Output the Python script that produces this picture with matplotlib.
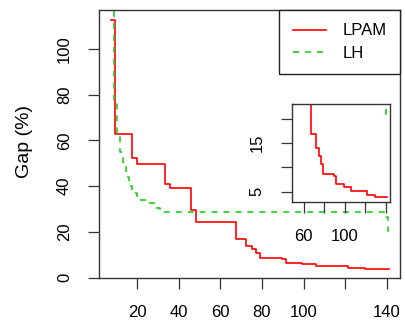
import matplotlib
matplotlib.use("Agg")
import matplotlib.pyplot as plt

plt.rcParams["font.family"] = ["Liberation Sans", "DejaVu Sans"]
plt.rcParams["lines.scale_dashes"] = False

# step curves: gap (%) vs n
lpam_n = [7.4, 9.3, 17.3, 19.7, 33.3, 35.7, 46.1, 48.5, 67.3, 72.3, 75.1, 77.3,
          79.0, 89.6, 91.4, 99.4, 106.2, 121.5, 129.8, 141.2]
lpam_gap = [112.8, 62.7, 52.2, 49.7, 40.8, 39.1, 29.6, 24.5, 16.9, 14.0, 12.4, 10.7,
            8.7, 8.2, 6.5, 5.9, 5.1, 4.2, 3.8, 3.8]

lh_n = [7.4, 9.0, 10.1, 11.5, 13.0, 14.5, 16.0, 17.5, 19.7, 24.5, 28.5, 30.9,
        139.7, 140.6, 141.2]
lh_gap = [125.0, 77.4, 62.4, 55.0, 49.3, 44.0, 40.0, 37.0, 34.0, 32.5, 30.3, 28.6,
          26.7, 20.3, 20.3]

x_ticks = [20, 40, 60, 80, 100, 120, 140]
x_labels = ["20", "40", "60", "80", "100", "", "140"]
y_ticks = [0, 20, 40, 60, 80, 100]
inset_x_ticks = [60, 80, 100, 120, 140]
inset_x_labels = ["60", "", "100", "", ""]
inset_y_ticks = [5, 10, 15, 20]
inset_y_labels = ["5", "", "15", ""]

RED = "#FF0000"
GREEN = "#22CC22"
FS = 12


def draw_curves(ax):
    ax.step(lpam_n, lpam_gap, where="post", color=RED, lw=1.2, label="LPAM")
    ax.step(lh_n, lh_gap, where="post", color=GREEN, lw=1.2,
            dashes=(4.3, 4.3), label="LH")


def style_axes(ax):
    for s in ax.spines.values():
        s.set_color("#333333")
        s.set_linewidth(1.0)
    ax.tick_params(length=8, width=0.9, color="#333333", labelsize=FS, pad=11.5)
    ax.tick_params(axis="y", labelrotation=90)
    for lab in ax.get_yticklabels():
        lab.set_va("center")


fig = plt.figure(figsize=(4.06, 3.27), dpi=100)
ax = fig.add_axes([0.2438, 0.1498, 0.7414, 0.8196])
draw_curves(ax)
ax.set_xlim(1.6, 146.4)
ax.set_ylim(-0.1, 117)
ax.set_xticks(x_ticks)
ax.set_xticklabels(x_labels)
ax.set_yticks(y_ticks)
style_axes(ax)
ax.set_ylabel("Gap (%)", fontsize=14)
ax.yaxis.set_label_coords(-0.218, 0.51)

leg = ax.legend(loc="upper right", bbox_to_anchor=(1.0, 1.0), borderaxespad=0,
                fancybox=False, edgecolor="#222222", framealpha=1, fontsize=FS,
                handlelength=2.0, handletextpad=1.0, borderpad=0.8,
                labelspacing=0.45)
leg.get_frame().set_linewidth(1.0)

# zoomed inset on the tail
ins = fig.add_axes([0.7185, 0.3823, 0.2421, 0.2997])
draw_curves(ins)
ins.set_xlim(48.3, 144.2)
ins.set_ylim(2.85, 23.1)
ins.set_xticks(inset_x_ticks)
ins.set_xticklabels(inset_x_labels)
ins.set_yticks(inset_y_ticks)
ins.set_yticklabels(inset_y_labels)
style_axes(ins)

fig.savefig("out.png", dpi=100)
